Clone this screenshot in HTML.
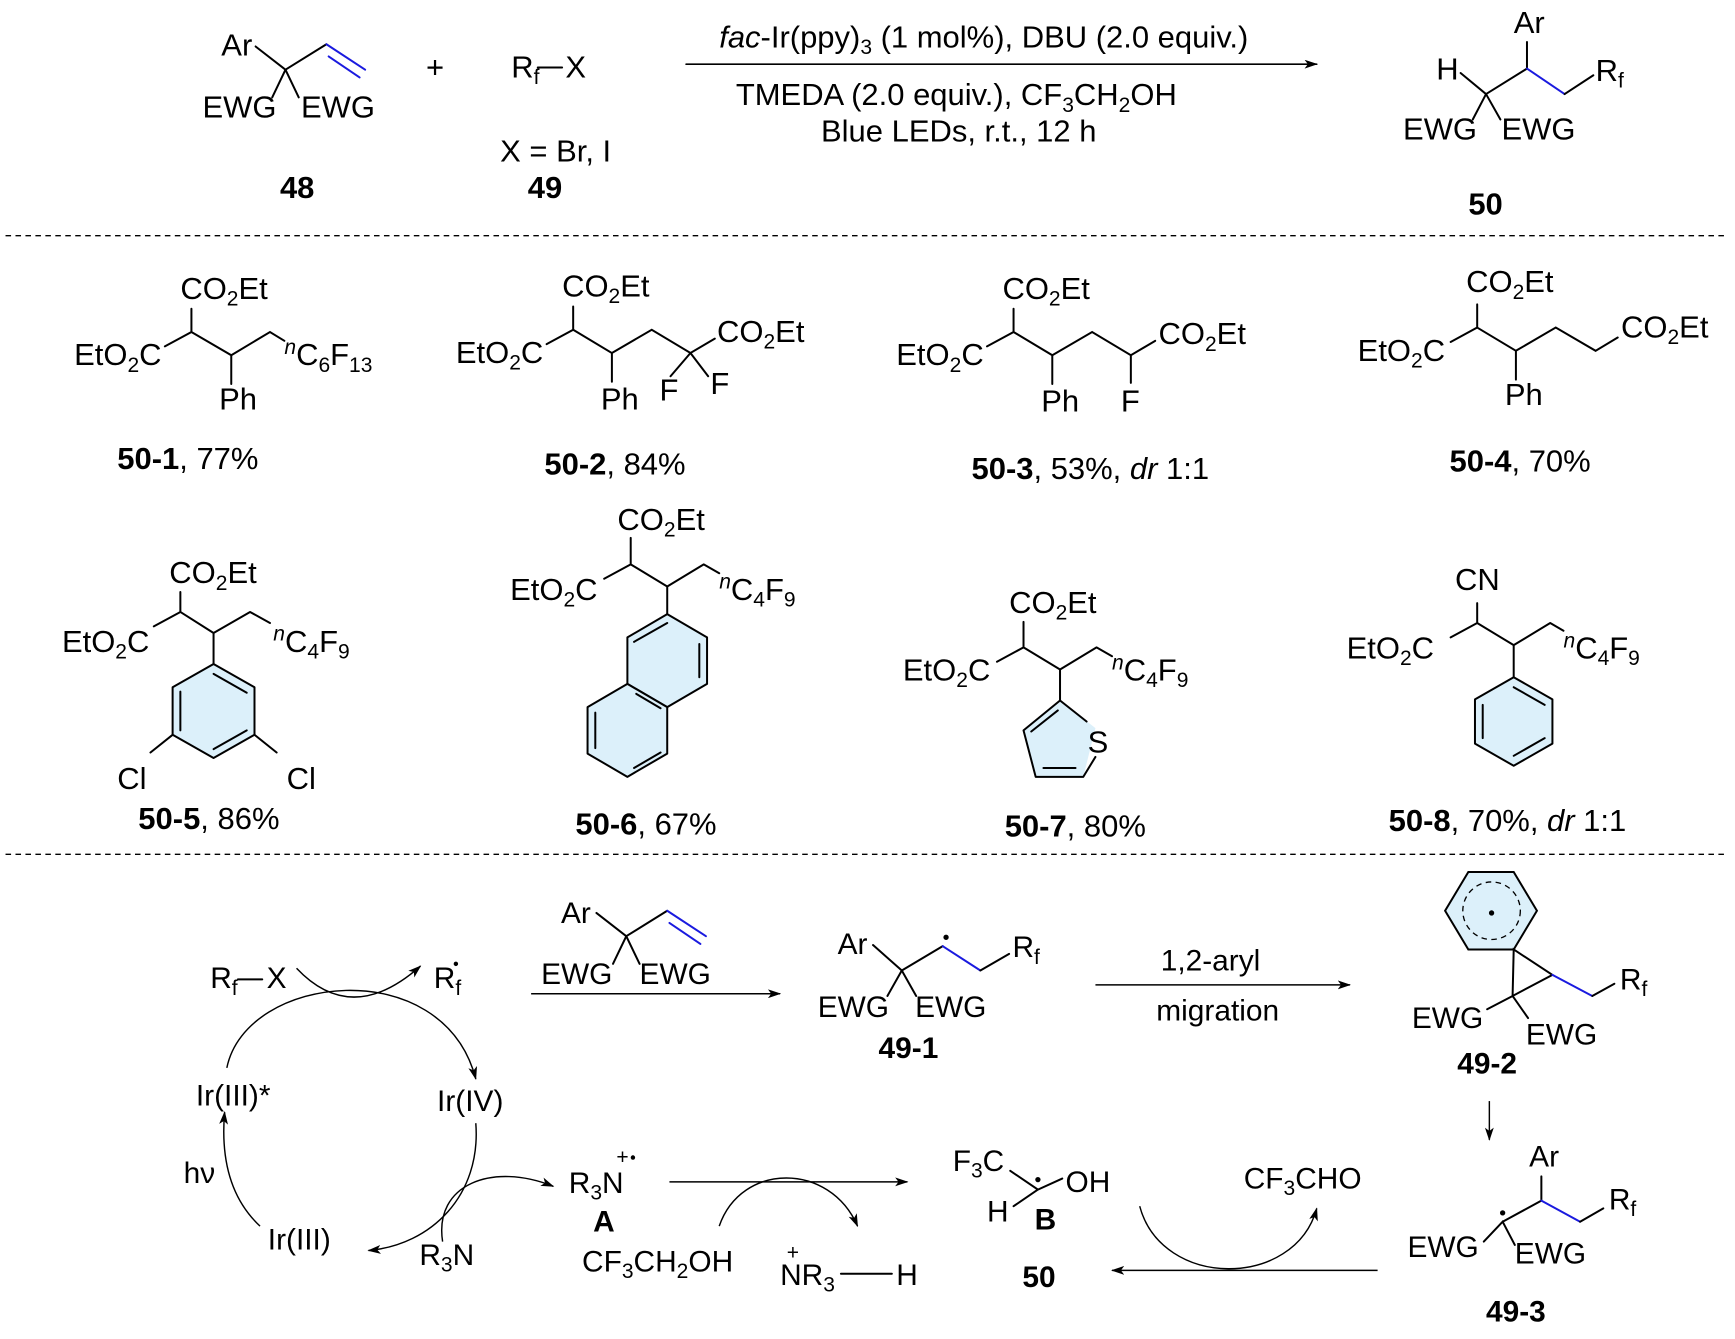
<!DOCTYPE html>
<html><head><meta charset="utf-8"><style>
html,body{margin:0;padding:0;background:#fff}
svg{display:block}
text{font-family:"Liberation Sans",Arial,sans-serif;fill:#000}
.m{font-size:27px}.t{font-size:28px}.c{font-size:28px}.b{font-weight:bold}
.s{font-size:19px}
</style></head><body>
<svg width="1735" height="1339" viewBox="0 0 1568 1210" preserveAspectRatio="none" xmlns="http://www.w3.org/2000/svg">
<defs>
<marker id="ar" viewBox="0 0 12 8" refX="11" refY="4" markerWidth="12" markerHeight="8" markerUnits="userSpaceOnUse" orient="auto"><path d="M0,0 L12,4 L0,8 L3,4 z" fill="#000"/></marker>
</defs>
<g stroke="#000" stroke-width="1.8" fill="none" stroke-linecap="round">
<!-- 48 -->
<line x1="231" y1="42" x2="258" y2="63"/><line x1="258" y1="63" x2="246" y2="88"/><line x1="258" y1="63" x2="270" y2="88"/><line x1="258" y1="63" x2="295" y2="40"/>
<line x1="295" y1="40" x2="330" y2="63" stroke="#1a1adf"/><line x1="297" y1="51" x2="325" y2="70" stroke="#1a1adf"/>
<line x1="620" y1="58" x2="1190" y2="58" stroke-width="1.4" marker-end="url(#ar)"/>
<!-- 50 -->
<line x1="1320" y1="66" x2="1343" y2="85"/><line x1="1343" y1="85" x2="1331" y2="108"/><line x1="1343" y1="85" x2="1356" y2="108"/><line x1="1343" y1="85" x2="1380" y2="62"/><line x1="1380" y1="62" x2="1380" y2="38"/>
<line x1="1380" y1="62" x2="1414" y2="85" stroke="#1a1adf"/><line x1="1414" y1="85" x2="1440" y2="68"/>
<line x1="486" y1="61" x2="508" y2="61"/>
</g>
<g stroke="#000" stroke-width="1.2" stroke-dasharray="5,4">
<line x1="5" y1="213" x2="1562" y2="213"/><line x1="5" y1="772" x2="1562" y2="772"/>
</g>
<text class="t" x="200" y="50">Ar</text>
<text class="t" x="183" y="106">EWG</text><text class="t" x="272" y="106">EWG</text>
<text class="t" x="385" y="70">+</text>
<text class="t" x="462" y="70">R<tspan class="s" dy="6">f</tspan></text><text class="t" x="511" y="70">X</text>
<text class="t" x="452" y="146">X = Br, I</text>
<text class="t b" x="253" y="179">48</text><text class="t b" x="477" y="179">49</text>
<text class="t" x="650" y="43"><tspan font-style="italic">fac</tspan>-Ir(ppy)<tspan class="s" dy="6">3</tspan><tspan dy="-6"> (1 mol%), DBU (2.0 equiv.)</tspan></text>
<text class="t" x="665" y="95">TMEDA (2.0 equiv.), CF<tspan class="s" dy="6">3</tspan><tspan dy="-6">CH</tspan><tspan class="s" dy="6">2</tspan><tspan dy="-6">OH</tspan></text>
<text class="t" x="742" y="128">Blue LEDs, r.t., 12 h</text>
<text class="t" x="1298" y="72">H</text><text class="t" x="1368" y="30">Ar</text>
<text class="t" x="1442" y="73">R<tspan class="s" dy="6">f</tspan></text>
<text class="t" x="1268" y="126">EWG</text><text class="t" x="1357" y="126">EWG</text>
<text class="t b" x="1327" y="194">50</text>

<!-- Row 1 -->
<g stroke="#000" stroke-width="1.8" fill="none" stroke-linecap="round">
<path d="M173 279 V300 L149 313 M173 300 L209 321 V347 M209 321 L244 300 L257 308"/>
<path d="M518 277 V298 L494 311 M518 298 L553 319 V345 M553 319 L589 298 L624 319 L646 306 M624 319 L606 340 M624 319 L640 340"/>
<path d="M916 279 V300 L892 313 M916 300 L951 321 V347 M951 321 L987 300 L1022 321 L1044 308 M1022 321 V346"/>
<path d="M1335 275 V296 L1311 309 M1335 296 L1370 317 V343 M1370 317 L1406 296 L1442 317 L1462 305"/>
</g>
<text class="c" x="163" y="270">CO<tspan class="s" dy="6">2</tspan><tspan dy="-6">Et</tspan></text>
<text class="c" x="67" y="330">EtO<tspan class="s" dy="6">2</tspan><tspan dy="-6">C</tspan></text>
<text class="c" x="198" y="370">Ph</text>
<text class="c" x="257" y="330"><tspan class="s" font-style="italic" dy="-10">n</tspan><tspan dy="10">C</tspan><tspan class="s" dy="6">6</tspan><tspan dy="-6">F</tspan><tspan class="s" dy="6">13</tspan></text>
<text class="c" x="508" y="268">CO<tspan class="s" dy="6">2</tspan><tspan dy="-6">Et</tspan></text>
<text class="c" x="412" y="328">EtO<tspan class="s" dy="6">2</tspan><tspan dy="-6">C</tspan></text>
<text class="c" x="543" y="370">Ph</text><text class="c" x="596" y="362">F</text><text class="c" x="642" y="356">F</text>
<text class="c" x="648" y="309">CO<tspan class="s" dy="6">2</tspan><tspan dy="-6">Et</tspan></text>
<text class="c" x="906" y="270">CO<tspan class="s" dy="6">2</tspan><tspan dy="-6">Et</tspan></text>
<text class="c" x="810" y="330">EtO<tspan class="s" dy="6">2</tspan><tspan dy="-6">C</tspan></text>
<text class="c" x="941" y="372">Ph</text><text class="c" x="1013" y="372">F</text>
<text class="c" x="1047" y="311">CO<tspan class="s" dy="6">2</tspan><tspan dy="-6">Et</tspan></text>
<text class="c" x="1325" y="264">CO<tspan class="s" dy="6">2</tspan><tspan dy="-6">Et</tspan></text>
<text class="c" x="1227" y="326">EtO<tspan class="s" dy="6">2</tspan><tspan dy="-6">C</tspan></text>
<text class="c" x="1360" y="366">Ph</text>
<text class="c" x="1465" y="305">CO<tspan class="s" dy="6">2</tspan><tspan dy="-6">Et</tspan></text>
<text class="c" x="106" y="424"><tspan font-weight="bold">50-1</tspan>, 77%</text>
<text class="c" x="492" y="429"><tspan font-weight="bold">50-2</tspan>, 84%</text>
<text class="c" x="878" y="433"><tspan font-weight="bold">50-3</tspan>, 53%, <tspan font-style="italic">dr</tspan> 1:1</text>
<text class="c" x="1310" y="426"><tspan font-weight="bold">50-4</tspan>, 70%</text>

<!-- Row 2 -->
<g stroke="#000" stroke-width="1.8" fill="none" stroke-linecap="round" stroke-linejoin="round">
<path d="M163 535 V553 L139 566 M163 553 L193 572 V600 M193 572 L226 553 L244 563"/>
<polygon points="193,600 230,621 230,664 193,685 156,664 156,621" fill="#dcf0fa"/>
<path d="M193 609 L223 626 M223 660 L193 677 M163 660 V625"/>
<path d="M156 664 L136 680 M230 664 L250 680"/>
<path d="M570 486 V510 L546 523 M570 510 L603 530 V555 M603 530 L636 510 L650 518"/>
<polygon points="603,555 639,576 639,618 603,639 567,618 567,576" fill="#dcf0fa"/>
<polygon points="567,618 603,639 603,681 567,702 531,681 531,639" fill="#dcf0fa"/>
<path d="M573 580 L603 563 M632 582 V612 M575 627 L597 640 M538 644 V676 M573 694 L597 680"/>
<path d="M925 562 V585 L901 598 M925 585 L958 605 V633 M958 605 L991 585 L1005 593"/>
<polygon points="958,633 990,658 979,702 936,702 925,660" fill="#dcf0fa" stroke="none"/>
<path d="M958 633 L982 652 M990 684 L979 702 L936 702 L925 660 L958 633 M943 694 L972 694 M932 661 L956 642"/>
<path d="M1335 545 V563 L1311 576 M1335 563 L1368 583 V612 M1368 583 L1401 563 L1413 570"/>
<polygon points="1368,612 1403,632 1403,672 1368,692 1333,672 1333,632" fill="#dcf0fa"/>
<path d="M1368 621 L1396 637 M1396 667 L1368 683 M1340 667 V637"/>
</g>
<text class="c" x="153" y="527">CO<tspan class="s" dy="6">2</tspan><tspan dy="-6">Et</tspan></text>
<text class="c" x="56" y="589">EtO<tspan class="s" dy="6">2</tspan><tspan dy="-6">C</tspan></text>
<text class="c" x="247" y="589"><tspan class="s" font-style="italic" dy="-10">n</tspan><tspan dy="10">C</tspan><tspan class="s" dy="6">4</tspan><tspan dy="-6">F</tspan><tspan class="s" dy="6">9</tspan></text>
<text class="c" x="106" y="713">Cl</text><text class="c" x="259" y="713">Cl</text>
<text class="c" x="558" y="479">CO<tspan class="s" dy="6">2</tspan><tspan dy="-6">Et</tspan></text>
<text class="c" x="461" y="542">EtO<tspan class="s" dy="6">2</tspan><tspan dy="-6">C</tspan></text>
<text class="c" x="650" y="542"><tspan class="s" font-style="italic" dy="-10">n</tspan><tspan dy="10">C</tspan><tspan class="s" dy="6">4</tspan><tspan dy="-6">F</tspan><tspan class="s" dy="6">9</tspan></text>
<text class="c" x="912" y="554">CO<tspan class="s" dy="6">2</tspan><tspan dy="-6">Et</tspan></text>
<text class="c" x="816" y="615">EtO<tspan class="s" dy="6">2</tspan><tspan dy="-6">C</tspan></text>
<text class="c" x="1005" y="615"><tspan class="s" font-style="italic" dy="-10">n</tspan><tspan dy="10">C</tspan><tspan class="s" dy="6">4</tspan><tspan dy="-6">F</tspan><tspan class="s" dy="6">9</tspan></text>
<text class="c" x="983" y="680">S</text>
<text class="c" x="1315" y="533">CN</text>
<text class="c" x="1217" y="595">EtO<tspan class="s" dy="6">2</tspan><tspan dy="-6">C</tspan></text>
<text class="c" x="1413" y="595"><tspan class="s" font-style="italic" dy="-10">n</tspan><tspan dy="10">C</tspan><tspan class="s" dy="6">4</tspan><tspan dy="-6">F</tspan><tspan class="s" dy="6">9</tspan></text>
<text class="c" x="125" y="749"><tspan font-weight="bold">50-5</tspan>, 86%</text>
<text class="c" x="520" y="754"><tspan font-weight="bold">50-6</tspan>, 67%</text>
<text class="c" x="908" y="756"><tspan font-weight="bold">50-7</tspan>, 80%</text>
<text class="c" x="1255" y="751"><tspan font-weight="bold">50-8</tspan>, 70%, <tspan font-style="italic">dr</tspan> 1:1</text>

<!-- Mechanism -->
<g stroke="#000" stroke-width="1.8" fill="none" stroke-linecap="round">
<line x1="539" y1="825" x2="566" y2="846"/><line x1="566" y1="846" x2="554" y2="871"/><line x1="566" y1="846" x2="578" y2="871"/><line x1="566" y1="846" x2="603" y2="823"/>
<line x1="603" y1="823" x2="638" y2="846" stroke="#1a1adf"/><line x1="605" y1="834" x2="633" y2="853" stroke="#1a1adf"/>
<line x1="789" y1="854" x2="815" y2="877"/><line x1="815" y1="877" x2="802" y2="900"/><line x1="815" y1="877" x2="828" y2="900"/><line x1="815" y1="877" x2="852" y2="855"/>
<line x1="852" y1="855" x2="886" y2="877" stroke="#1a1adf"/><line x1="886" y1="877" x2="912" y2="862"/>
<polygon points="1327,788 1368,788 1389,823 1368,858 1327,858 1306,823" fill="#dcf0fa"/>
<path d="M1368 858 L1367 900 L1403 881 Z M1367 900 L1344 912 M1367 900 L1381 920"/>
<path d="M1403 881 L1439 900" stroke="#1a1adf"/><path d="M1439 900 L1459 889"/>
<path d="M1341 1122 L1358 1104 L1369 1125 M1358 1104 L1393 1085 V1063"/>
<path d="M1393 1085 L1428 1104" stroke="#1a1adf"/><path d="M1428 1104 L1449 1092"/>
<path d="M913 1058 L938 1075 L960 1065 M938 1075 L916 1090"/>
<line x1="760" y1="1151" x2="806" y2="1151"/>
<line x1="215" y1="885" x2="237" y2="885"/>
</g>
<circle cx="1348" cy="823" r="26" fill="none" stroke="#000" stroke-width="1.2" stroke-dasharray="5,4"/>
<circle cx="1348" cy="825" r="2.4" fill="#000"/>
<circle cx="855" cy="847" r="2.4" fill="#000"/>
<circle cx="1358" cy="1096" r="2.4" fill="#000"/>
<circle cx="938" cy="1066" r="2.4" fill="#000"/>
<g stroke="#000" stroke-width="1.3" fill="none" marker-end="url(#ar)">
<line x1="480" y1="898" x2="705" y2="898"/>
<line x1="990" y1="890" x2="1220" y2="890"/>
<line x1="1346" y1="995" x2="1346" y2="1030"/>
<line x1="605" y1="1068" x2="820" y2="1068"/>
<line x1="1245" y1="1148" x2="1005" y2="1148"/>
<path d="M268 875 Q318 928 380 873"/>
<path d="M205 965 C222 880 400 860 430 975"/>
<path d="M430 1015 C435 1080 390 1125 333 1130"/>
<path d="M235 1108 C205 1080 200 1040 203 1005"/>
<path d="M400 1122 C392 1070 445 1050 500 1072"/>
<path d="M650 1108 C670 1050 750 1050 775 1108"/>
<path d="M1030 1090 C1050 1165 1170 1165 1190 1092"/>
</g>
<text class="m" x="507" y="834">Ar</text>
<text class="m" x="489" y="889">EWG</text><text class="m" x="578" y="889">EWG</text>
<text class="m" x="757" y="862">Ar</text>
<text class="m" x="739" y="919">EWG</text><text class="m" x="827" y="919">EWG</text>
<text class="m" x="915" y="865">R<tspan class="s" dy="6">f</tspan></text>
<text class="m b" x="794" y="956">49-1</text>
<text class="m" x="1049" y="877">1,2-aryl</text>
<text class="m" x="1045" y="922">migration</text>
<text class="m" x="1464" y="894">R<tspan class="s" dy="6">f</tspan></text>
<text class="m" x="1276" y="929">EWG</text><text class="m" x="1379" y="944">EWG</text>
<text class="m b" x="1317" y="970">49-2</text>
<text class="m" x="1382" y="1054">Ar</text>
<text class="m" x="1454" y="1093">R<tspan class="s" dy="6">f</tspan></text>
<text class="m" x="1272" y="1136">EWG</text><text class="m" x="1369" y="1142">EWG</text>
<text class="m b" x="1343" y="1194">49-3</text>
<text class="m" x="190" y="893">R<tspan class="s" dy="6">f</tspan></text><text class="m" x="241" y="893">X</text>
<text class="m" x="392" y="893">R<tspan class="s" dy="6">f</tspan></text>
<circle cx="412" cy="871" r="2" fill="#000"/>
<text class="m" x="177" y="999">Ir(III)*</text>
<text class="m" x="395" y="1004">Ir(IV)</text>
<text class="m" x="242" y="1129">Ir(III)</text>
<text class="m" x="166" y="1069">hν</text>
<text class="m" x="379" y="1143">R<tspan class="s" dy="6">3</tspan><tspan dy="-6">N</tspan></text>
<text class="m" x="514" y="1078">R<tspan class="s" dy="6">3</tspan><tspan dy="-6">N</tspan></text>
<text class="s" x="557" y="1052">+</text><circle cx="572" cy="1046" r="2" fill="#000"/>
<text class="m b" x="536" y="1113">A</text>
<text class="m" x="526" y="1149">CF<tspan class="s" dy="6">3</tspan><tspan dy="-6">CH</tspan><tspan class="s" dy="6">2</tspan><tspan dy="-6">OH</tspan></text>
<text class="s" x="711" y="1138">+</text>
<text class="m" x="705" y="1161">NR<tspan class="s" dy="6">3</tspan></text>
<text class="m" x="810" y="1161">H</text>
<text class="m" x="861" y="1058">F<tspan class="s" dy="6">3</tspan><tspan dy="-6">C</tspan></text>
<text class="m" x="963" y="1077">OH</text>
<text class="m" x="892" y="1104">H</text>
<text class="m b" x="935" y="1111">B</text>
<text class="m b" x="924" y="1163">50</text>
<text class="m" x="1124" y="1074">CF<tspan class="s" dy="6">3</tspan><tspan dy="-6">CHO</tspan></text>
</svg>
</body></html>
